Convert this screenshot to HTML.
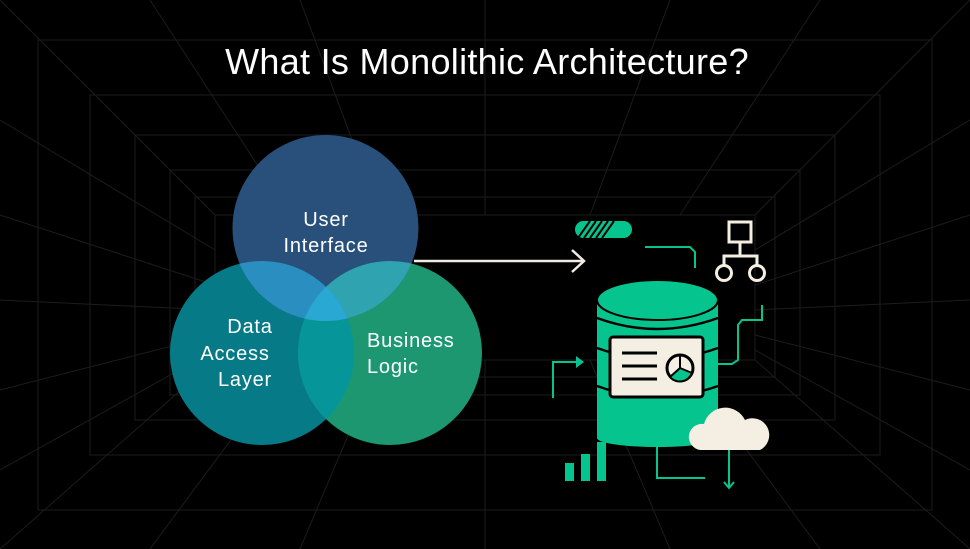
<!DOCTYPE html>
<html><head><style>
html,body{margin:0;padding:0;background:#000;}
svg{display:block;}
text{font-family:"Liberation Sans",sans-serif;}
</style></head><body>
<svg width="970" height="549" viewBox="0 0 970 549" xmlns="http://www.w3.org/2000/svg">
<rect width="970" height="549" fill="#000"/>
<g stroke="#1c1c1c" stroke-width="1" fill="none">
<rect x="38" y="40" width="894" height="470"/>
<rect x="90" y="95" width="790" height="360"/>
<rect x="135" y="135" width="700" height="285"/>
<rect x="170" y="170" width="630" height="225"/>
<rect x="195" y="197" width="580" height="180"/>
<rect x="215" y="215" width="540" height="145"/>
<line x1="0" y1="0" x2="215" y2="215"/><line x1="970" y1="0" x2="755" y2="215"/>
<line x1="0" y1="549" x2="215" y2="360"/><line x1="970" y1="549" x2="755" y2="360"/>
<line x1="0" y1="120" x2="215" y2="250"/><line x1="0" y1="215" x2="215" y2="285"/>
<line x1="0" y1="300" x2="215" y2="310"/><line x1="0" y1="390" x2="215" y2="335"/>
<line x1="0" y1="470" x2="215" y2="350"/>
<line x1="970" y1="120" x2="755" y2="250"/><line x1="970" y1="215" x2="755" y2="285"/>
<line x1="970" y1="300" x2="755" y2="310"/><line x1="970" y1="390" x2="755" y2="335"/>
<line x1="970" y1="470" x2="755" y2="350"/>
<line x1="150" y1="0" x2="290" y2="215"/><line x1="300" y1="0" x2="380" y2="215"/>
<line x1="485" y1="0" x2="485" y2="215"/><line x1="670" y1="0" x2="590" y2="215"/>
<line x1="820" y1="0" x2="680" y2="215"/>
<line x1="150" y1="549" x2="290" y2="360"/><line x1="300" y1="549" x2="380" y2="360"/>
<line x1="485" y1="549" x2="485" y2="360"/><line x1="670" y1="549" x2="590" y2="360"/>
<line x1="820" y1="549" x2="680" y2="360"/>
</g>
<text x="487" y="74" font-size="36" fill="#fff" text-anchor="middle" letter-spacing="0.3">What Is Monolithic Architecture?</text>
<defs>
<clipPath id="cu"><circle cx="325.5" cy="228" r="93"/></clipPath>
<clipPath id="cd"><circle cx="262" cy="353" r="92"/></clipPath>
<clipPath id="cb"><circle cx="390" cy="353" r="92"/></clipPath>
</defs>
<circle cx="262" cy="353" r="92" fill="#067a86"/>
<circle cx="390" cy="353" r="92" fill="#1c9770"/>
<circle cx="325.5" cy="228" r="93" fill="#28507a"/>
<g clip-path="url(#cd)"><circle cx="390" cy="353" r="92" fill="#06969a"/><circle cx="325.5" cy="228" r="93" fill="#2a8fc0"/></g>
<g clip-path="url(#cb)"><circle cx="325.5" cy="228" r="93" fill="#30a3b0"/></g>
<g clip-path="url(#cd)"><g clip-path="url(#cb)"><circle cx="325.5" cy="228" r="93" fill="#28a8d2"/></g></g>
<g font-size="20" fill="#fff" text-anchor="middle" letter-spacing="0.8">
<text x="326" y="226">User</text><text x="326" y="252">Interface</text>
<text x="250" y="333">Data</text><text x="235" y="360">Access</text><text x="245" y="386">Layer</text>
</g>
<g font-size="20" fill="#fff" letter-spacing="0.8"><text x="367" y="347">Business</text><text x="367" y="373">Logic</text></g>
<line x1="414" y1="261" x2="583" y2="261" stroke="#f0ece4" stroke-width="2.5"/>
<polyline points="572,250 584,261 572,272" fill="none" stroke="#f0ece4" stroke-width="2.5"/>
<rect x="575" y="221" width="57" height="17" rx="8.5" fill="#05c48e"/>
<g stroke="#000" stroke-width="2"><line x1="578" y1="238" x2="590" y2="221"/><line x1="584" y1="238" x2="596" y2="221"/><line x1="590" y1="238" x2="602" y2="221"/><line x1="596" y1="238" x2="608" y2="221"/><line x1="602" y1="238" x2="614" y2="221"/></g>
<polyline points="645,247 690,247 695,252 695,268" fill="none" stroke="#05c48e" stroke-width="2"/>
<g fill="none" stroke="#f5efe3" stroke-width="3">
<rect x="729" y="222" width="22" height="20"/>
<line x1="740" y1="242" x2="740" y2="256"/>
<polyline points="724,266 724,256 757,256 757,266"/>
<circle cx="724" cy="273" r="7.5"/><circle cx="757" cy="273" r="7.5"/>
</g>
<polyline points="762,305 762,320 742,320 738,325 738,360 732,364 718,364" fill="none" stroke="#05c48e" stroke-width="2"/>
<polyline points="553,398 553,362 578,362" fill="none" stroke="#05c48e" stroke-width="2"/>
<polygon points="576,356 584,362 576,368" fill="#05c48e"/>
<rect x="597" y="300" width="121" height="138" fill="#05c48e"/>
<ellipse cx="657.5" cy="438" rx="60.5" ry="9" fill="#05c48e"/>
<g fill="none" stroke="#000" stroke-width="2.5">
<path d="M597,318 Q657,340 718,318"/>
<path d="M597,348 Q657,370 718,348"/>
<path d="M597,386 Q657,408 718,386"/>
</g>
<ellipse cx="657.5" cy="300" rx="60.5" ry="20" fill="#05c48e" stroke="#000" stroke-width="2"/>
<rect x="610" y="337" width="93" height="60" rx="3" fill="#f5efe3" stroke="#000" stroke-width="3"/>
<g stroke="#000" stroke-width="3"><line x1="622" y1="353" x2="657" y2="353"/><line x1="622" y1="366" x2="657" y2="366"/><line x1="622" y1="379" x2="657" y2="379"/></g>
<circle cx="680" cy="368" r="13" fill="#f5efe3" stroke="#000" stroke-width="3"/>
<path d="M680,368 L692,373 A13,13 0 0 1 670,377 Z" fill="#05c48e" stroke="#000" stroke-width="2"/>
<line x1="680" y1="355" x2="680" y2="368" stroke="#000" stroke-width="2"/>
<polyline points="657,445 657,478 705,478" fill="none" stroke="#05c48e" stroke-width="2"/>
<path d="M700,450 A13,13 0 0 1 704,424 A22,22 0 0 1 745,420 A14,14 0 0 1 760,450 Z" fill="#f5efe3"/>
<line x1="729" y1="450" x2="729" y2="487" stroke="#05c48e" stroke-width="2"/>
<polyline points="724,482 729,488 734,482" fill="none" stroke="#05c48e" stroke-width="2"/>
<rect x="565" y="463" width="9" height="18" fill="#05c48e"/>
<rect x="581" y="454" width="9" height="27" fill="#05c48e"/>
<rect x="597" y="442" width="9" height="39" fill="#05c48e"/>
</svg>
</body></html>
